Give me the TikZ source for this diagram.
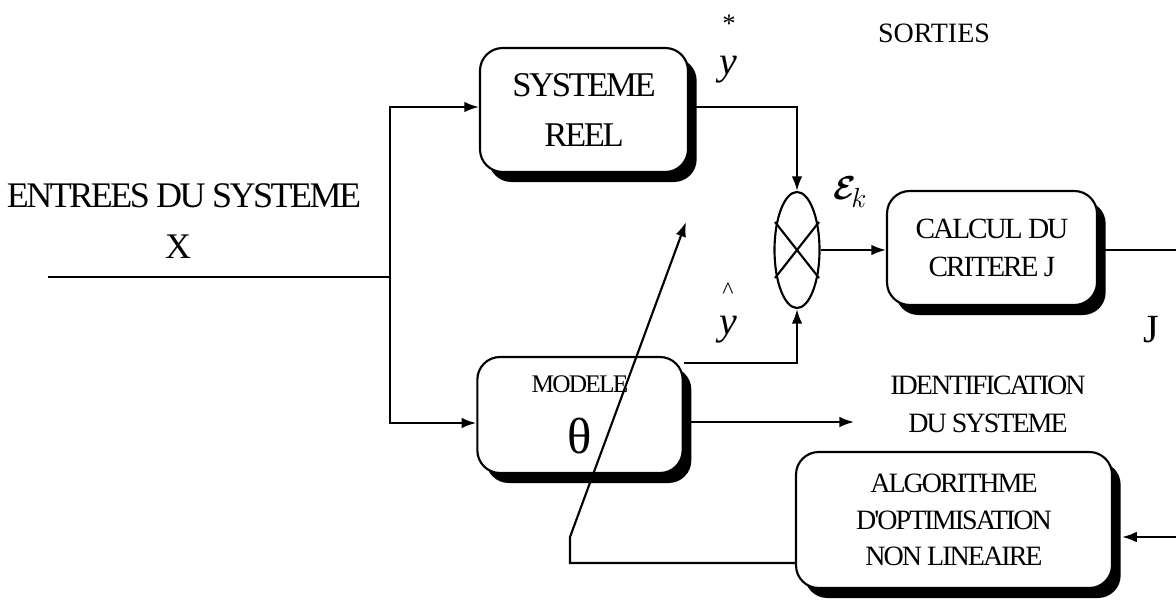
\documentclass[tikz,border=0pt]{standalone}
\usepackage{amsmath}
\usepackage{fontspec}
\setmainfont{Liberation Serif}
\newfontfamily\tight{Liberation Serif}[LetterSpace=-7]
\usetikzlibrary{arrows.meta,shadows,shapes.geometric,calc}
\begin{document}
\begin{tikzpicture}[x=0.75pt,y=-0.75pt,
  blk/.style={draw, line width=1.6pt, rounded corners=17pt, fill=white, align=center,
    inner sep=0pt,
    drop shadow={shadow xshift=6.5pt, shadow yshift=-7.5pt, fill=black, opacity=1}},
  wire/.style={line width=1.6pt},
  arr/.style={line width=1.6pt, -{Latex[length=11pt,width=8pt]}},
  lbl/.style={inner sep=0pt, align=center}]
\useasboundingbox (0,0) rectangle (1176,599);
\clip (0,0) rectangle (1176,599);

% blocks
\node[blk, minimum width=156pt, minimum height=93pt,
  font={\tight\fontsize{26}{37.5}\selectfont}] (sys) at (584,110) {SYSTEME\\REEL};
\node[blk, minimum width=154pt, minimum height=87pt,
  font={\tight\fontsize{19}{46}\selectfont}] (mod) at (580,415)
  {MODELE\\{\fontsize{38}{46}\selectfont θ}};
\node[blk, minimum width=157.5pt, minimum height=85.5pt,
  font={\tight\fontsize{22}{28}\selectfont}] (calc) at (992,248) {CALCUL DU\\CRITERE J};
\node[blk, minimum width=237pt, minimum height=102pt,
  font={\tight\fontsize{21}{27.5}\selectfont}] (algo) at (954,520)
  {ALGORITHME\\D'OPTIMISATION\\NON LINEAIRE};
\node[draw, ellipse, line width=1.6pt, minimum width=33.75pt, minimum height=87pt,
  inner sep=0pt] (e) at (797,250) {};
\draw[wire] ($(e.center)+(-22,-28)$) -- ($(e.center)+(22,28)$);
\draw[wire] ($(e.center)+(22,-28)$) -- ($(e.center)+(-22,28)$);

% labels
\node[lbl, font={\tight\fontsize{27}{30}\selectfont}] (entree) at (184,196) {ENTREES DU SYSTEME};
\node[lbl, font={\fontsize{27}{30}\selectfont}] (xlab) at (178,247) {X};
\node[lbl, font={\fontsize{21}{24}\selectfont}] (sorties) at (934,33) {SORTIES};
\node[lbl, font={\fontsize{30}{30}\selectfont\itshape}] (ystar) at (728,70) {y};
\node[lbl, font={\fontsize{20}{20}\selectfont}] (star) at (729,24) {*};
\node[lbl, font={\fontsize{18}{18}\selectfont}, anchor=base] (yhatc) at (728,298) {\smash{\^{}}};
\node[lbl, font={\fontsize{30}{30}\selectfont\itshape}] (yhat) at (728,330) {y};
\node[lbl, font={\fontsize{28}{28}\selectfont}] (eps) at (850,192) {$\boldsymbol{\mathcal{E}}_{\!k}$};
\node[lbl, font={\fontsize{30}{30}\selectfont}] (jlab) at (1151,330) {J};
\node[lbl, font={\tight\fontsize{21}{28.5}\selectfont}] (ident) at (988,404)
  {IDENTIFICATION\\DU SYSTEME};

% connectors
\coordinate (xin) at (48,277);
\coordinate (split) at (390,277);
\coordinate (jr) at (1182,250);
\coordinate (fbA) at (570,563);
\coordinate (fbB) at (570,537);
\coordinate (fbT) at (686,222);
\draw[wire] (xin) -- (split);
\draw[arr] (split) |- ($(sys.west)+(0,-3)$);
\draw[arr] (split) |- ($(mod.west)+(0,8)$);
\draw[arr] ($(sys.east)+(0,-3)$) -| (e.north);
\draw[arr] ($(mod.north east)+(0,7)$) -| (e.south);
\draw[arr] (e.east) -- (calc.west |- e.east);
\draw[arr] (calc.east |- jr) -- (jr) |- ($(algo.east)+(9,17)$);
\draw[arr] ($(mod.east)+(0,7)$) -- ($(ident.west)+(-36,18)$);
\draw[arr] ($(algo.west)+(0,43)$) -- (fbA) -- (fbB) -- (fbT);
\end{tikzpicture}
\end{document}
